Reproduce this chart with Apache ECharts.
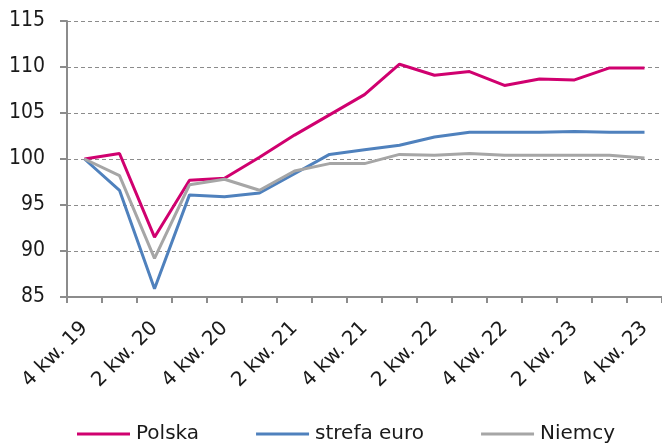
<!DOCTYPE html>
<html>
<head>
<meta charset="utf-8">
<script src="https://cdn.jsdelivr.net/npm/echarts@6/dist/echarts.min.js"></script>
<style>
 html, body { margin: 0; padding: 0; background: #fff; }
 #chart { width: 662px; height: 445px; }
</style>
</head>
<body>
<div id="chart"></div>
<script>
 // kwartaly od 4 kw. 19 do 4 kw. 23
 var quarters = ['4 kw. 19', '1 kw. 20', '2 kw. 20', '3 kw. 20', '4 kw. 20', '1 kw. 21', '2 kw. 21', '3 kw. 21',
   '4 kw. 21', '1 kw. 22', '2 kw. 22', '3 kw. 22', '4 kw. 22', '1 kw. 23', '2 kw. 23', '3 kw. 23', '4 kw. 23'];
 var polska = [100, 100.6, 91.5, 97.7, 97.9, 100.2, 102.6, 104.8, 107.0, 110.3, 109.1, 109.5, 108.0, 108.7, 108.6, 109.9, 109.9];
 var strefaEuro = [100, 96.6, 85.9, 96.1, 95.9, 96.3, 98.4, 100.5, 101.0, 101.5, 102.4, 102.9, 102.9, 102.9, 103.0, 102.9, 102.9];
 var niemcy = [100, 98.2, 89.2, 97.2, 97.8, 96.6, 98.7, 99.5, 99.5, 100.5, 100.4, 100.6, 100.4, 100.4, 100.4, 100.4, 100.1];
 var yTicks = [85, 115, 5]; // min, max, krok

 var font = 'DejaVu Sans';
 var fontNarrow = 'DejaVu Sans Condensed';

 function makeSeries(name, data, color) {
   return {
     name: name,
     type: 'line',
     data: data,
     symbol: 'none',
     lineStyle: { color: color, width: 3 },
     itemStyle: { color: color }
   };
 }

 var option = {
   animation: false,
   textStyle: { fontFamily: font },
   grid: { left: 67, top: 21, width: 596, height: 276 },
   legend: {
     left: 72,
     top: 419,
     icon: 'rect',
     itemWidth: 53,
     itemHeight: 3,
     itemGap: 57,
     textStyle: { fontFamily: font, fontSize: 20, color: '#1a1a1a', padding: [0, 0, 0, 1] },
     data: ['Polska', 'strefa euro', 'Niemcy']
   },
   xAxis: {
     type: 'category',
     data: quarters,
     boundaryGap: true,
     axisLine: { lineStyle: { color: '#8c8c8c', width: 2 } },
     axisTick: { show: true, interval: 0, length: 6, lineStyle: { color: '#8c8c8c', width: 2 } },
     axisLabel: {
       interval: 1,
       rotate: 45,
       margin: 28,
       fontFamily: font,
       fontSize: 20,
       color: '#1a1a1a'
     }
   },
   yAxis: {
     type: 'value',
     min: yTicks[0],
     max: yTicks[1],
     interval: yTicks[2],
     axisLine: { show: true, lineStyle: { color: '#8c8c8c', width: 2 } },
     axisTick: { show: true, length: 7, lineStyle: { color: '#8c8c8c', width: 2 } },
     axisLabel: { margin: 22, fontFamily: fontNarrow, fontSize: 21, color: '#1a1a1a' },
     splitLine: { show: true, lineStyle: { color: '#8c8c8c', width: 1, type: [4, 3] } }
   },
   series: [
     makeSeries('Polska', polska, '#D0006F'),
     makeSeries('strefa euro', strefaEuro, '#4F81BD'),
     makeSeries('Niemcy', niemcy, '#A6A6A6')
   ]
 };

 var myChart = echarts.init(document.getElementById('chart'));
 myChart.setOption(option);
</script>
</body>
</html>
